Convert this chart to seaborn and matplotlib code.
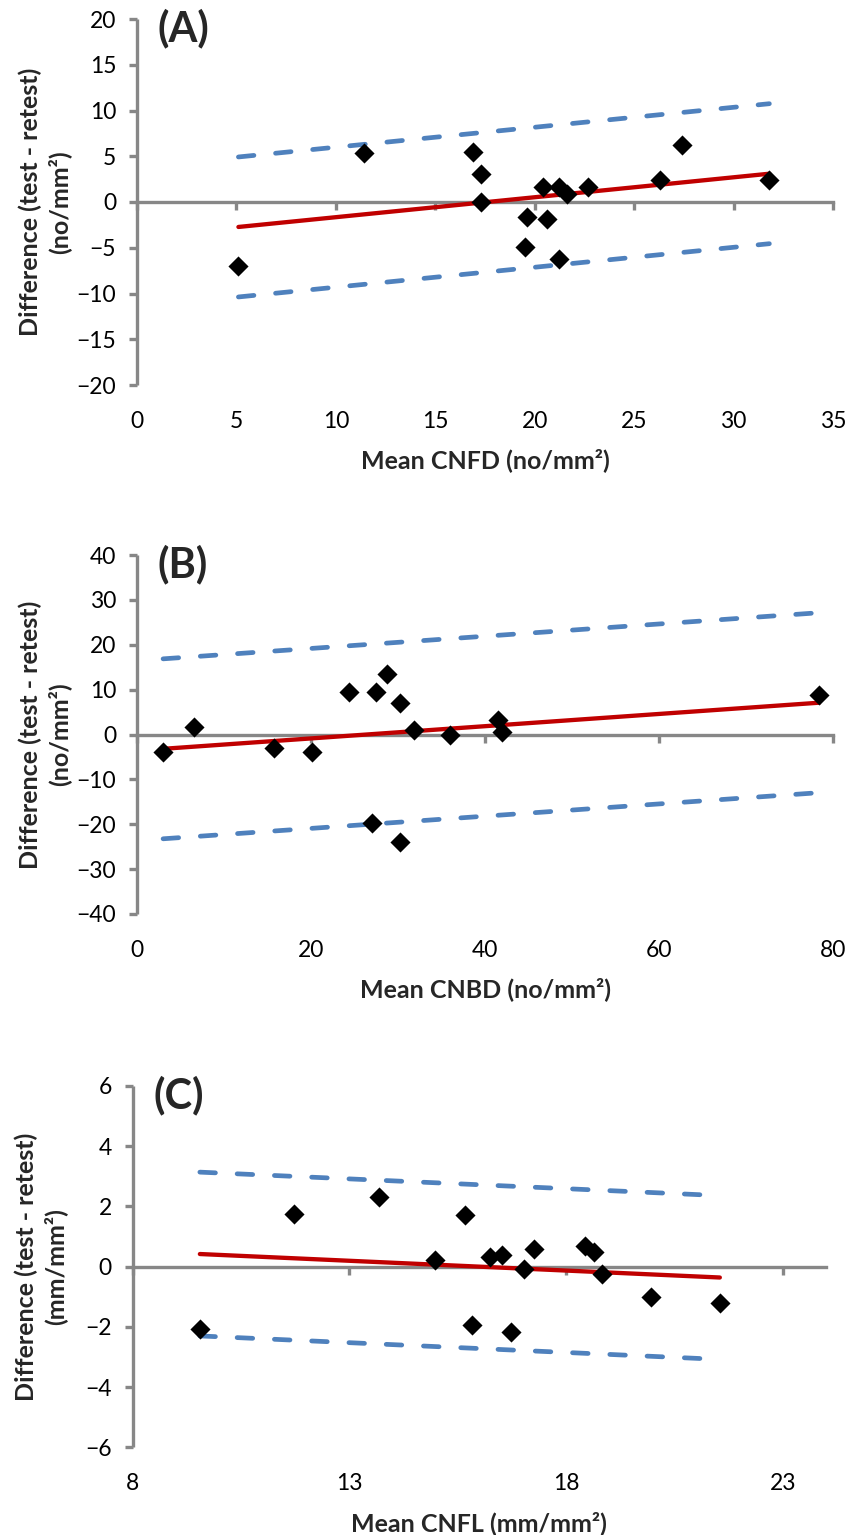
import numpy as np
import pandas as pd
import seaborn as sns
import matplotlib.pyplot as plt

# ---- Panel A: corneal nerve fibre density (CNFD) ----
cnfd_mean = [5.1, 11.4, 16.9, 17.3, 17.3, 19.6, 19.5, 20.4, 20.6, 21.2, 21.2, 21.6, 22.7, 26.3, 27.4, 31.8]
cnfd_diff = [-7.0, 5.4, 5.5, 3.1, 0.0, -1.6, -4.9, 1.6, -1.9, 1.6, -6.2, 0.9, 1.6, 2.4, 6.2, 2.4]
cnfd_fit = dict(slope=0.218, intercept=-3.84, loa=7.65)

# ---- Panel B: corneal nerve branch density (CNBD) ----
cnbd_mean = [3.0, 6.5, 15.8, 20.1, 24.4, 27.5, 28.7, 30.2, 31.8, 36.0, 41.5, 41.9, 27.0, 30.2, 78.4]
cnbd_diff = [-3.9, 1.6, -3.1, -3.9, 9.4, 9.4, 13.4, 7.1, 1.0, 0.0, 3.3, 0.5, -19.7, -23.9, 8.7]
cnbd_fit = dict(slope=0.1363, intercept=-3.6, loa=20.05)

# ---- Panel C: corneal nerve fibre length (CNFL) ----
cnfl_mean = [9.55, 11.72, 13.69, 14.98, 15.68, 15.84, 16.24, 16.52, 16.72, 17.02, 17.26, 18.43, 18.64, 18.82, 19.97, 21.55]
cnfl_diff = [-2.07, 1.76, 2.31, 0.21, 1.70, -1.93, 0.31, 0.39, -2.17, -0.09, 0.58, 0.70, 0.48, -0.25, -1.01, -1.20]
cnfl_fit = dict(slope=-0.065, intercept=1.04, loa=2.72)

panel_tags = ["(A)", "(B)", "(C)"]
x_titles = ["Mean CNFD (no/mm\u00b2)", "Mean CNBD (no/mm\u00b2)", "Mean CNFL (mm/mm\u00b2)"]
y_titles = ["Difference (test - retest)\n(no/mm\u00b2)",
            "Difference (test - retest)\n(no/mm\u00b2)",
            "Difference (test - retest)\n(mm/mm\u00b2)"]
x_ticks = [[0, 5, 10, 15, 20, 25, 30, 35], [0, 20, 40, 60, 80], [8, 13, 18, 23]]
x_lims = [(0, 35), (0, 80), (8, 24)]
y_ticks = [list(range(-20, 21, 5)), list(range(-40, 41, 10)), list(range(-6, 7, 2))]

sns.set_theme(style="white")
plt.rcParams["font.family"] = ["Lato", "DejaVu Sans"]

GREY = "#878787"
RED = "#C00000"
BLUE = "#4F81BD"

W, H = 849, 1535
fig = plt.figure(figsize=(W / 100, H / 100), dpi=100)

# axes rectangles in pixels: left, top, right, bottom
rects_px = [(137, 19, 833, 385), (137, 555, 833, 914), (132.7, 1086, 826, 1447.3)]

datasets = [(cnfd_mean, cnfd_diff, cnfd_fit), (cnbd_mean, cnbd_diff, cnbd_fit), (cnfl_mean, cnfl_diff, cnfl_fit)]

for i, ((xm, yd, fit), (l, t, r, b)) in enumerate(zip(datasets, rects_px)):
    ax = fig.add_axes([l / W, 1 - b / H, (r - l) / W, (b - t) / H])
    ax.set_facecolor("none")

    # regression line and limits of agreement over the observed range
    xs = np.array([min(xm), max(xm)])
    centre = fit["intercept"] + fit["slope"] * xs
    lines = pd.DataFrame({
        "x": np.concatenate([xs, xs, xs]),
        "y": np.concatenate([centre, centre + fit["loa"], centre - fit["loa"]]),
        "kind": ["fit"] * 2 + ["upper"] * 2 + ["lower"] * 2,
    })
    for kind, sub in lines.groupby("kind"):
        if kind == "fit":
            sns.lineplot(data=sub, x="x", y="y", ax=ax, color=RED, linewidth=3.1,
                         solid_capstyle="round", zorder=3, errorbar=None)
        else:
            sns.lineplot(data=sub, x="x", y="y", ax=ax, color=BLUE, linewidth=3.4,
                         linestyle=(0, (3.3, 4.6)), dash_capstyle="round", zorder=3,
                         errorbar=None)

    sns.scatterplot(x=xm, y=yd, ax=ax, marker="D", s=105, color="black",
                    linewidth=0, zorder=4)

    ax.set_xlim(*x_lims[i])
    ax.set_ylim(y_ticks[i][0], y_ticks[i][-1])
    ax.set_yticks(y_ticks[i])
    ax.set_xticks(x_ticks[i])

    for side in ("top", "right"):
        ax.spines[side].set_visible(False)
    ax.spines["left"].set_color(GREY)
    ax.spines["left"].set_linewidth(2.4)
    ax.spines["bottom"].set_color(GREY)
    ax.spines["bottom"].set_linewidth(2.4)
    ax.spines["bottom"].set_position(("data", 0))
    ax.spines["left"].set_capstyle("butt")

    ax.tick_params(axis="y", direction="out", length=6, width=2.4, color=GREY,
                   labelsize=16.5, labelcolor="black", pad=9, left=True)
    ax.tick_params(axis="x", direction="out", length=6, width=2.4, color=GREY,
                   labelbottom=False, bottom=True)

    # tick labels sit at the bottom edge while the axis line crosses at zero
    sec = ax.secondary_xaxis("bottom")
    sec.set_xticks(x_ticks[i])
    sec.spines["bottom"].set_visible(False)
    sec.tick_params(axis="x", length=0, pad=18.5, labelsize=16.5, labelcolor="black")
    sec.set_xlabel(x_titles[i], fontsize=18, fontweight="bold", labelpad=12)

    ax.set_xlabel("")
    ax.set_ylabel(y_titles[i], fontsize=18, fontweight="bold", linespacing=1.25)
    ax.yaxis.set_label_coords(-0.095, 0.5)

    ax.text(0.03, 0.974, panel_tags[i], transform=ax.transAxes, fontsize=30,
            fontweight="bold", ha="left", va="center")

fig.savefig("out.png", dpi=100)
